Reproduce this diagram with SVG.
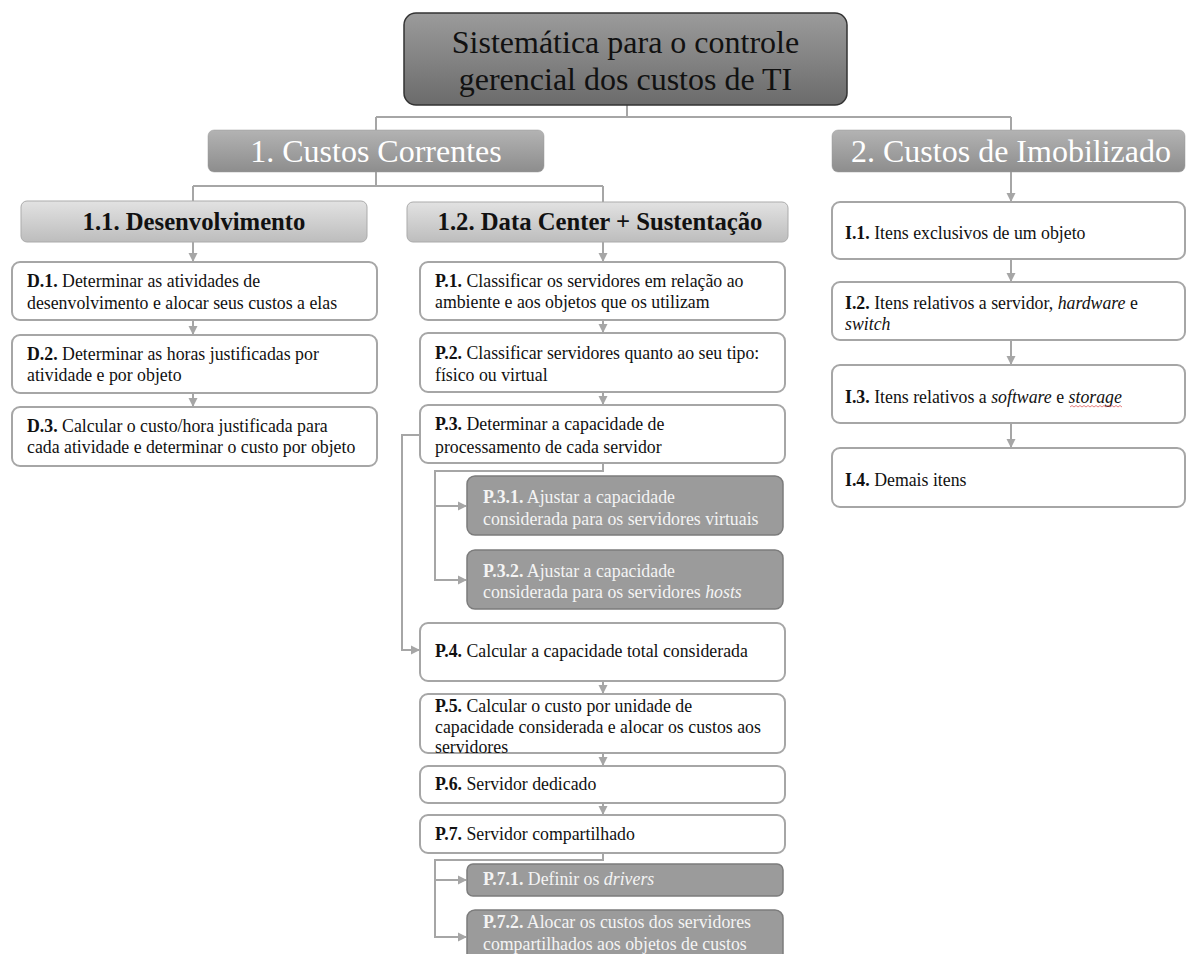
<svg xmlns="http://www.w3.org/2000/svg" width="1187" height="954" viewBox="0 0 1187 954">
<defs>
<linearGradient id="gTop" x1="0" y1="0" x2="0" y2="1"><stop offset="0" stop-color="#9b9b9b"/><stop offset="1" stop-color="#6b6b6b"/></linearGradient>
<linearGradient id="gL1" x1="0" y1="0" x2="0" y2="1"><stop offset="0" stop-color="#b3b3b3"/><stop offset="1" stop-color="#8d8d8d"/></linearGradient>
<linearGradient id="gL2" x1="0" y1="0" x2="0" y2="1"><stop offset="0" stop-color="#e2e2e2"/><stop offset="1" stop-color="#bdbdbd"/></linearGradient>
<marker id="arr" markerUnits="userSpaceOnUse" markerWidth="10" markerHeight="10" refX="8" refY="4.5" orient="auto" viewBox="0 0 10 9"><path d="M0,0 L9,4.5 L0,9 z" fill="#a6a6a6"/></marker>
</defs>
<style>
text{font-family:"Liberation Serif","Times New Roman",serif;}
.t{font-size:17.8px;fill:#111;}
.tw{font-size:17.8px;fill:#f4f4f4;}
.b{font-weight:bold;}
.i{font-style:italic;}
.box{fill:#fff;stroke:#a6a6a6;stroke-width:2;}
.dbox{fill:#9b9b9b;stroke:#7c7c7c;stroke-width:1.5;}
.l2{fill:url(#gL2);stroke:#ababab;stroke-width:1;}
.l1{fill:url(#gL1);stroke:#9a9a9a;stroke-width:0.5;}
.h1{font-size:32px;fill:#fff;text-anchor:middle;}
.h2{font-size:24.7px;font-weight:bold;fill:#111;text-anchor:middle;}
.c{fill:none;stroke:#a6a6a6;stroke-width:2;}
.ca{fill:none;stroke:#a6a6a6;stroke-width:2;marker-end:url(#arr);}
</style>
<rect width="1187" height="954" fill="#fff"/>

<g id="connectors">
<path class="c" d="M627,105 V117 M376,117 H1011 M376,117 V130 M1011,117 V130"/>
<path class="c" d="M376,172 V186 M193,186 H603 M193,186 V201 M603,186 V202"/>
<path class="ca" d="M1011,172 V201"/>
<path class="ca" d="M193,242 V261"/>
<path class="ca" d="M193,320 V334"/>
<path class="ca" d="M193,393 V406"/>
<path class="ca" d="M603,242 V261"/>
<path class="ca" d="M603,320 V332"/>
<path class="ca" d="M603,392 V404"/>
<path class="ca" d="M420,435 H402 V650 H419"/>
<path class="ca" d="M603,463 V471 H435 V580 H466"/>
<path class="ca" d="M435,506 H466"/>
<path class="ca" d="M603,681 V693"/>
<path class="ca" d="M603,753 V765"/>
<path class="ca" d="M603,803 V814"/>
<path class="ca" d="M603,853 V860 H435 V937 H466"/>
<path class="ca" d="M435,880 H466"/>
<path class="ca" d="M1011,259 V281"/>
<path class="ca" d="M1011,340 V364"/>
<path class="ca" d="M1011,423 V447"/>
</g>

<g id="root">
<rect x="404" y="13" width="443" height="92" rx="12" fill="url(#gTop)" stroke="#333" stroke-width="1.5"/>
<text x="625.5" y="53" font-size="32" fill="#111" text-anchor="middle">Sistemática para o controle</text>
<text x="625.5" y="90" font-size="32" fill="#111" text-anchor="middle">gerencial dos custos de TI</text>
</g>

<g id="custos-correntes">
<rect class="l1" x="208" y="130" width="336" height="42" rx="6"/>
<text class="h1" x="376" y="162">1. Custos Correntes</text>
</g>

<g id="custos-imobilizado">
<rect class="l1" x="832" y="130" width="353" height="42" rx="6"/>
<text class="h1" x="1011" y="162">2. Custos de Imobilizado</text>
</g>

<g id="desenvolvimento">
<rect class="l2" x="21" y="201" width="346" height="41" rx="6"/>
<text class="h2" x="194" y="230">1.1. Desenvolvimento</text>
</g>

<g id="datacenter">
<rect class="l2" x="407" y="202" width="381" height="40" rx="6"/>
<text class="h2" x="600" y="230">1.2. Data Center + Sustentação</text>
</g>

<g id="D1">
<rect class="box" x="12" y="262" width="365" height="58" rx="8"/>
<text class="t" x="27" y="287"><tspan class="b">D.1.</tspan> Determinar as atividades de</text>
<text class="t" x="27" y="309">desenvolvimento e alocar seus custos a elas</text>
</g>
<g id="D2">
<rect class="box" x="12" y="335" width="365" height="58" rx="8"/>
<text class="t" x="27" y="360"><tspan class="b">D.2.</tspan> Determinar as horas justificadas por</text>
<text class="t" x="27" y="381">atividade e por objeto</text>
</g>
<g id="D3">
<rect class="box" x="12" y="407" width="365" height="59" rx="8"/>
<text class="t" x="27" y="432"><tspan class="b">D.3.</tspan> Calcular o custo/hora justificada para</text>
<text class="t" x="27" y="453">cada atividade e determinar o custo por objeto</text>
</g>

<g id="P1">
<rect class="box" x="420" y="262" width="365" height="58" rx="8"/>
<text class="t" x="435" y="287"><tspan class="b">P.1.</tspan> Classificar os servidores em relação ao</text>
<text class="t" x="435" y="308">ambiente e aos objetos que os utilizam</text>
</g>
<g id="P2">
<rect class="box" x="420" y="333" width="365" height="59" rx="8"/>
<text class="t" x="435" y="359"><tspan class="b">P.2.</tspan> Classificar servidores quanto ao seu tipo:</text>
<text class="t" x="435" y="381">físico ou virtual</text>
</g>
<g id="P3">
<rect class="box" x="420" y="405" width="365" height="58" rx="8"/>
<text class="t" x="435" y="430"><tspan class="b">P.3.</tspan> Determinar a capacidade de</text>
<text class="t" x="435" y="453">processamento de cada servidor</text>
</g>
<g id="P31">
<rect class="dbox" x="467" y="476" width="316" height="59" rx="8"/>
<text class="tw" x="483" y="503"><tspan class="b">P.3.1.</tspan> Ajustar a capacidade</text>
<text class="tw" x="483" y="525">considerada para os servidores virtuais</text>
</g>
<g id="P32">
<rect class="dbox" x="467" y="550" width="316" height="59" rx="8"/>
<text class="tw" x="483" y="577"><tspan class="b">P.3.2.</tspan> Ajustar a capacidade</text>
<text class="tw" x="483" y="598">considerada para os servidores <tspan class="i">hosts</tspan></text>
</g>
<g id="P4">
<rect class="box" x="420" y="623" width="365" height="58" rx="8"/>
<text class="t" x="435" y="657"><tspan class="b">P.4.</tspan> Calcular a capacidade total considerada</text>
</g>
<g id="P5">
<rect class="box" x="420" y="694" width="365" height="59" rx="8"/>
<text class="t" x="435" y="712"><tspan class="b">P.5.</tspan> Calcular o custo por unidade de</text>
<text class="t" x="435" y="733">capacidade considerada e alocar os custos aos</text>
<text class="t" x="435" y="753">servidores</text>
</g>
<g id="P6">
<rect class="box" x="420" y="766" width="365" height="37" rx="8"/>
<text class="t" x="435" y="790"><tspan class="b">P.6.</tspan> Servidor dedicado</text>
</g>
<g id="P7">
<rect class="box" x="420" y="815" width="365" height="38" rx="8"/>
<text class="t" x="435" y="840"><tspan class="b">P.7.</tspan> Servidor compartilhado</text>
</g>
<g id="P71">
<rect class="dbox" x="467" y="864" width="316" height="32" rx="6"/>
<text class="tw" x="483" y="885"><tspan class="b">P.7.1.</tspan> Definir os <tspan class="i">drivers</tspan></text>
</g>
<g id="P72">
<rect class="dbox" x="467" y="910" width="316" height="60" rx="8"/>
<text class="tw" x="483" y="928"><tspan class="b">P.7.2.</tspan> Alocar os custos dos servidores</text>
<text class="tw" x="483" y="950">compartilhados aos objetos de custos</text>
</g>

<g id="I1">
<rect class="box" x="832" y="202" width="353" height="57" rx="8"/>
<text class="t" x="845" y="239"><tspan class="b">I.1.</tspan> Itens exclusivos de um objeto</text>
</g>
<g id="I2">
<rect class="box" x="832" y="282" width="353" height="58" rx="8"/>
<text class="t" x="845" y="309"><tspan class="b">I.2.</tspan> Itens relativos a servidor, <tspan class="i">hardware</tspan> e</text>
<text class="t i" x="845" y="330">switch</text>
</g>
<g id="I3">
<rect class="box" x="832" y="365" width="353" height="58" rx="8"/>
<text class="t" x="845" y="403"><tspan class="b">I.3.</tspan> Itens relativos a <tspan class="i">software</tspan> e <tspan class="i">storage</tspan></text>
<path d="M1070,407 l2,-1.5 l2,1.5 l2,-1.5 l2,1.5 l2,-1.5 l2,1.5 l2,-1.5 l2,1.5 l2,-1.5 l2,1.5 l2,-1.5 l2,1.5 l2,-1.5 l2,1.5 l2,-1.5 l2,1.5 l2,-1.5 l2,1.5 l2,-1.5 l2,1.5 l2,-1.5 l2,1.5 l2,-1.5 l2,1.5 l2,-1.5 l2,1.5" fill="none" stroke="#e06060" stroke-width="0.8"/>
</g>
<g id="I4">
<rect class="box" x="832" y="448" width="353" height="59" rx="8"/>
<text class="t" x="845" y="486"><tspan class="b">I.4.</tspan> Demais itens</text>
</g>
</svg>
